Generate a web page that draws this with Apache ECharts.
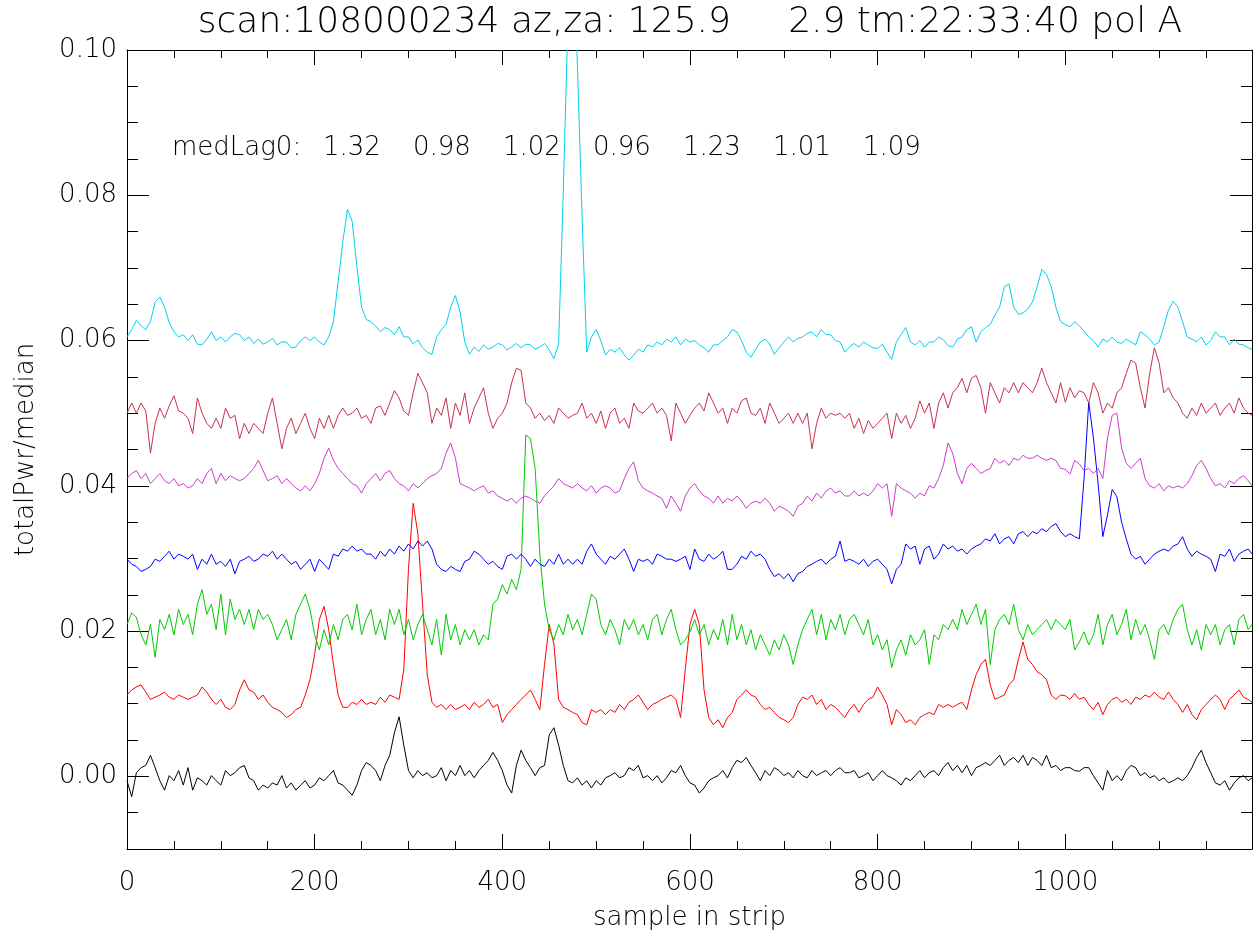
<!DOCTYPE html>
<html><head><meta charset="utf-8">
<script src="https://cdn.jsdelivr.net/npm/echarts@6/dist/echarts.min.js"></script>
<style>html,body{margin:0;padding:0;background:#fff}#c{width:1258px;height:936px}</style>
</head><body><div id="c"></div>
<script>
const titleText = 'scan:108000234 az,za: 125.9     2.9 tm:22:33:40 pol A';
const xAxisName = 'sample in strip';
const yAxisName = 'totalPwr/median';
const medLagLabel = 'medLag0:';
const medLag0 = ['1.32', '0.98', '1.02', '0.96', '1.23', '1.01', '1.09'];
const xTickLabels = [0, 200, 400, 600, 800, 1000];
const yTickLabels = [0, 0.02, 0.04, 0.06, 0.08, 0.10];

// sample index of each read-off point (every 5th sample, plus the last one)
const sampleIndex = [];
for (let s = 0; s <= 1195; s += 5) sampleIndex.push(s);
sampleIndex.push(1199);

const black = [
-.0006,-.0028,.0005,.0012,.0015,.0029,.0012,-.0006,-.0019,.0001,
-.0006,.0008,-.0012,.0012,-.0019,-.0002,-.0006,-.0012,.0001,-.0006,
-.0012,.0008,.0001,.0005,.0012,.0015,-.0002,-.0006,-.0019,-.0012,
-.0016,-.0009,-.0012,.0001,-.0016,-.0009,-.0019,-.0012,-.0006,-.0016,
-.0012,-.0002,-.0006,.0001,.0008,-.0009,-.0012,-.0019,-.0026,-.0012,
.0008,.0019,.0015,.0008,-.0006,.0015,.0029,.0060,.0082,.0043,
.0008,-.0002,.0008,.0001,.0005,-.0002,.0001,.0012,-.0006,.0008,
.0001,.0015,.0001,.0008,-.0002,.0008,.0015,.0022,.0033,.0022,
.0008,-.0012,-.0023,.0015,.0036,.0022,.0012,.0001,.0012,.0015,
.0057,.0067,.0043,.0015,-.0006,-.0009,-.0002,-.0012,-.0006,-.0016,
-.0006,-.0012,-.0002,.0001,.0005,-.0002,.0001,.0012,.0008,.0015,
-.0002,.0001,-.0006,.0001,-.0009,-.0002,.0008,.0005,.0015,.0001,
-.0009,-.0012,-.0023,-.0016,-.0006,-.0002,.0001,.0008,-.0002,.0012,
.0022,.0019,.0026,.0015,.0005,-.0006,.0008,.0001,.0012,.0008,
.0001,.0005,-.0002,.0008,.0001,-.0002,.0008,.0001,.0005,.0008,
.0001,.0008,.0012,.0005,.0005,.0008,-.0002,.0001,.0005,-.0006,
.0001,.0008,.0001,-.0002,-.0006,-.0012,-.0002,-.0006,.0001,.0008,
-.0002,.0005,.0008,.0001,.0012,.0019,.0008,.0015,.0005,.0015,
.0001,.0012,.0015,.0019,.0015,.0022,.0029,.0015,.0022,.0026,
.0019,.0029,.0015,.0026,.0022,.0015,.0029,.0012,.0015,.0008,
.0012,.0012,.0008,.0007,.0012,.0012,.0001,-.0009,-.0019,.0008,
-.0006,.0001,-.0006,.0008,.0015,.0012,.0001,.0005,-.0002,.0001,
-.0006,-.0002,-.0009,-.0006,-.0002,-.0006,.0001,.0012,.0026,.0036,
.0019,.0005,-.0009,-.0012,-.0006,-.0019,-.0009,-.0002,.0001,-.0006,
-.0002];

const red = [
.0112,.0119,.0123,.0126,.0116,.0106,.0109,.0112,.0116,.0109,
.0106,.0112,.0109,.0106,.0109,.0112,.0123,.0116,.0106,.0099,
.0106,.0095,.0092,.0099,.0119,.0133,.0119,.0116,.0106,.0112,
.0102,.0095,.0092,.0088,.0081,.0085,.0092,.0095,.0112,.0133,
.0168,.0216,.0234,.0202,.0154,.0112,.0095,.0095,.0102,.0099,
.0106,.0099,.0102,.0099,.0109,.0102,.0112,.0109,.0106,.0147,
.0286,.0376,.0334,.0237,.0140,.0102,.0095,.0099,.0092,.0099,
.0092,.0095,.0099,.0092,.0102,.0095,.0099,.0106,.0095,.0099,
.0074,.0085,.0092,.0099,.0106,.0112,.0119,.0106,.0092,.0154,
.0209,.0182,.0106,.0095,.0092,.0088,.0085,.0074,.0071,.0092,
.0088,.0092,.0085,.0092,.0088,.0099,.0092,.0102,.0106,.0112,
.0102,.0092,.0099,.0102,.0106,.0109,.0112,.0106,.0081,.0147,
.0209,.0230,.0209,.0119,.0081,.0071,.0078,.0067,.0081,.0088,
.0106,.0112,.0119,.0112,.0109,.0099,.0092,.0095,.0088,.0081,
.0078,.0074,.0081,.0099,.0109,.0106,.0112,.0099,.0106,.0092,
.0099,.0095,.0088,.0081,.0092,.0099,.0088,.0099,.0106,.0109,
.0123,.0112,.0099,.0071,.0092,.0085,.0074,.0078,.0071,.0081,
.0085,.0088,.0085,.0099,.0095,.0099,.0095,.0099,.0102,.0092,
.0119,.0140,.0154,.0161,.0126,.0106,.0109,.0112,.0126,.0133,
.0161,.0185,.0161,.0154,.0144,.0140,.0133,.0112,.0106,.0112,
.0111,.0106,.0114,.0106,.0109,.0099,.0092,.0102,.0085,.0099,
.0106,.0109,.0102,.0106,.0099,.0109,.0106,.0112,.0109,.0116,
.0109,.0106,.0116,.0106,.0099,.0088,.0099,.0085,.0078,.0092,
.0099,.0106,.0112,.0106,.0092,.0106,.0112,.0119,.0109,.0106,
.0102];

const green = [
.0209,.0225,.0219,.0195,.0181,.0209,.0164,.0216,.0202,.0223,
.0195,.0230,.0209,.0223,.0195,.0237,.0257,.0223,.0237,.0202,
.0251,.0195,.0244,.0216,.0230,.0209,.0230,.0202,.0230,.0216,
.0223,.0209,.0188,.0202,.0216,.0188,.0223,.0237,.0251,.0230,
.0195,.0174,.0202,.0181,.0209,.0188,.0216,.0223,.0202,.0237,
.0195,.0216,.0230,.0195,.0216,.0188,.0230,.0209,.0230,.0195,
.0216,.0188,.0209,.0223,.0202,.0181,.0216,.0167,.0223,.0188,
.0209,.0181,.0202,.0188,.0202,.0181,.0195,.0188,.0237,.0244,
.0264,.0251,.0271,.0257,.0285,.0470,.0465,.0424,.0306,.0237,
.0202,.0188,.0209,.0195,.0223,.0202,.0216,.0195,.0223,.0251,
.0244,.0209,.0195,.0216,.0202,.0181,.0216,.0202,.0216,.0195,
.0209,.0188,.0216,.0223,.0195,.0216,.0230,.0202,.0181,.0188,
.0199,.0216,.0195,.0209,.0181,.0202,.0188,.0216,.0181,.0223,
.0188,.0209,.0181,.0202,.0174,.0195,.0181,.0167,.0188,.0174,
.0195,.0181,.0154,.0181,.0202,.0216,.0230,.0195,.0223,.0188,
.0216,.0202,.0223,.0195,.0216,.0223,.0209,.0195,.0216,.0181,
.0195,.0174,.0188,.0150,.0174,.0188,.0167,.0195,.0181,.0188,
.0202,.0154,.0195,.0188,.0209,.0202,.0216,.0202,.0230,.0209,
.0223,.0237,.0209,.0230,.0154,.0202,.0216,.0223,.0209,.0237,
.0202,.0188,.0209,.0195,.0202,.0209,.0216,.0202,.0216,.0209,
.0202,.0216,.0174,.0185,.0199,.0181,.0195,.0223,.0181,.0209,
.0223,.0195,.0209,.0230,.0188,.0216,.0195,.0209,.0188,.0161,
.0202,.0209,.0195,.0216,.0230,.0237,.0202,.0181,.0202,.0174,
.0209,.0195,.0209,.0181,.0202,.0209,.0181,.0216,.0223,.0202,
.0209];

const blue = [
.0299,.0292,.0289,.0282,.0285,.0289,.0299,.0296,.0303,.0310,
.0299,.0306,.0303,.0299,.0306,.0285,.0299,.0292,.0306,.0292,
.0296,.0289,.0299,.0279,.0296,.0299,.0303,.0296,.0299,.0306,
.0303,.0310,.0299,.0306,.0299,.0292,.0296,.0285,.0292,.0299,
.0282,.0299,.0292,.0285,.0306,.0303,.0313,.0310,.0317,.0310,
.0313,.0306,.0306,.0299,.0310,.0303,.0313,.0306,.0317,.0310,
.0320,.0313,.0324,.0317,.0324,.0313,.0292,.0285,.0282,.0289,
.0285,.0282,.0296,.0299,.0310,.0306,.0299,.0292,.0296,.0289,
.0285,.0303,.0306,.0299,.0306,.0299,.0289,.0299,.0292,.0289,
.0299,.0292,.0306,.0292,.0299,.0292,.0299,.0292,.0310,.0320,
.0306,.0299,.0292,.0303,.0299,.0306,.0313,.0299,.0282,.0299,
.0296,.0299,.0292,.0306,.0303,.0299,.0299,.0296,.0299,.0303,
.0285,.0313,.0299,.0296,.0306,.0299,.0303,.0310,.0285,.0285,
.0292,.0303,.0299,.0310,.0303,.0306,.0299,.0285,.0275,.0279,
.0272,.0279,.0268,.0279,.0282,.0289,.0292,.0296,.0299,.0292,
.0299,.0303,.0324,.0296,.0299,.0296,.0292,.0299,.0289,.0296,
.0299,.0292,.0285,.0265,.0285,.0292,.0320,.0313,.0317,.0292,
.0313,.0317,.0299,.0306,.0320,.0313,.0317,.0310,.0313,.0306,
.0313,.0317,.0320,.0327,.0324,.0334,.0320,.0327,.0330,.0320,
.0334,.0337,.0330,.0337,.0334,.0341,.0337,.0344,.0348,.0337,
.0330,.0334,.0330,.0327,.0410,.0515,.0466,.0403,.0330,.0360,
.0395,.0385,.0350,.0327,.0306,.0299,.0303,.0292,.0299,.0306,
.0310,.0313,.0310,.0317,.0320,.0330,.0313,.0303,.0310,.0306,
.0303,.0299,.0282,.0306,.0303,.0313,.0296,.0306,.0310,.0313,
.0306];

const magenta = [
.0410,.0417,.0421,.0410,.0417,.0403,.0410,.0417,.0407,.0403,
.0410,.0400,.0403,.0397,.0400,.0410,.0403,.0417,.0424,.0403,
.0417,.0407,.0414,.0410,.0407,.0410,.0417,.0424,.0435,.0421,
.0407,.0410,.0414,.0403,.0410,.0403,.0397,.0393,.0400,.0393,
.0403,.0417,.0438,.0452,.0435,.0424,.0417,.0410,.0403,.0400,
.0390,.0403,.0410,.0417,.0407,.0417,.0421,.0410,.0403,.0400,
.0393,.0403,.0397,.0403,.0410,.0414,.0417,.0424,.0445,.0459,
.0438,.0403,.0400,.0397,.0393,.0397,.0400,.0390,.0393,.0386,
.0383,.0379,.0383,.0376,.0383,.0386,.0383,.0379,.0376,.0386,
.0393,.0400,.0410,.0403,.0400,.0397,.0403,.0397,.0393,.0400,
.0390,.0397,.0400,.0397,.0390,.0393,.0410,.0424,.0433,.0407,
.0397,.0393,.0390,.0386,.0383,.0369,.0386,.0376,.0365,.0386,
.0397,.0403,.0393,.0386,.0383,.0376,.0386,.0376,.0383,.0379,
.0386,.0379,.0369,.0376,.0379,.0376,.0383,.0376,.0365,.0372,
.0369,.0365,.0358,.0372,.0376,.0386,.0379,.0390,.0383,.0393,
.0397,.0390,.0393,.0386,.0386,.0393,.0386,.0390,.0386,.0393,
.0403,.0397,.0403,.0358,.0403,.0397,.0393,.0390,.0383,.0390,
.0386,.0400,.0397,.0410,.0428,.0459,.0445,.0417,.0403,.0424,
.0431,.0424,.0417,.0421,.0424,.0438,.0431,.0435,.0428,.0438,
.0435,.0442,.0438,.0438,.0442,.0438,.0435,.0438,.0435,.0424,
.0423,.0416,.0435,.0430,.0421,.0424,.0417,.0424,.0410,.0466,
.0497,.0500,.0452,.0431,.0424,.0431,.0438,.0410,.0400,.0397,
.0403,.0393,.0400,.0397,.0400,.0397,.0403,.0414,.0428,.0435,
.0424,.0410,.0400,.0403,.0397,.0407,.0403,.0410,.0414,.0407,
.0400];

const crimson = [
.0500,.0514,.0500,.0514,.0503,.0445,.0486,.0507,.0493,.0510,
.0524,.0503,.0500,.0493,.0472,.0521,.0500,.0486,.0479,.0493,
.0479,.0507,.0493,.0497,.0465,.0486,.0472,.0486,.0479,.0472,
.0500,.0521,.0486,.0451,.0479,.0493,.0472,.0486,.0500,.0479,
.0465,.0493,.0479,.0497,.0479,.0497,.0507,.0497,.0500,.0507,
.0493,.0497,.0486,.0507,.0510,.0497,.0514,.0531,.0521,.0503,
.0497,.0528,.0555,.0542,.0528,.0486,.0507,.0497,.0521,.0479,
.0514,.0497,.0528,.0486,.0507,.0521,.0535,.0500,.0479,.0493,
.0500,.0514,.0542,.0562,.0559,.0514,.0507,.0493,.0500,.0490,
.0497,.0486,.0507,.0500,.0493,.0497,.0500,.0514,.0493,.0500,
.0486,.0503,.0479,.0500,.0507,.0486,.0493,.0479,.0514,.0503,
.0500,.0507,.0514,.0500,.0507,.0497,.0462,.0514,.0500,.0486,
.0497,.0507,.0514,.0503,.0528,.0514,.0500,.0507,.0486,.0507,
.0500,.0517,.0521,.0500,.0497,.0507,.0486,.0514,.0500,.0486,
.0493,.0500,.0486,.0500,.0486,.0500,.0451,.0486,.0507,.0493,
.0500,.0497,.0500,.0493,.0500,.0479,.0493,.0472,.0490,.0479,
.0486,.0493,.0500,.0465,.0500,.0486,.0497,.0479,.0493,.0517,
.0500,.0514,.0479,.0514,.0528,.0507,.0528,.0535,.0548,.0528,
.0548,.0552,.0535,.0500,.0542,.0528,.0514,.0535,.0528,.0542,
.0528,.0542,.0535,.0528,.0542,.0562,.0542,.0528,.0514,.0542,
.0515,.0535,.0521,.0531,.0528,.0514,.0542,.0528,.0500,.0514,
.0507,.0528,.0535,.0555,.0573,.0569,.0535,.0507,.0555,.0590,
.0569,.0528,.0535,.0521,.0514,.0500,.0493,.0507,.0497,.0514,
.0500,.0507,.0514,.0497,.0507,.0514,.0500,.0521,.0507,.0500,
.0497];

const cyan = [
.0605,.0615,.0628,.0620,.0615,.0626,.0653,.0660,.0646,.0625,
.0612,.0605,.0608,.0600,.0608,.0595,.0594,.0602,.0612,.0600,
.0605,.0598,.0605,.0610,.0608,.0600,.0605,.0596,.0602,.0595,
.0598,.0603,.0594,.0598,.0598,.0590,.0591,.0600,.0605,.0600,
.0605,.0598,.0594,.0605,.0626,.0681,.0736,.0781,.0764,.0702,
.0646,.0629,.0626,.0620,.0612,.0618,.0615,.0608,.0619,.0605,
.0605,.0595,.0601,.0590,.0584,.0581,.0605,.0615,.0622,.0646,
.0662,.0639,.0598,.0581,.0591,.0585,.0594,.0588,.0591,.0596,
.0594,.0587,.0591,.0596,.0590,.0595,.0594,.0588,.0591,.0596,
.0587,.0575,.0595,.0806,.1045,.1200,.0980,.0771,.0584,.0605,
.0615,.0600,.0580,.0588,.0584,.0590,.0580,.0573,.0580,.0588,
.0584,.0594,.0591,.0598,.0594,.0602,.0598,.0605,.0594,.0602,
.0598,.0600,.0594,.0590,.0584,.0594,.0594,.0600,.0605,.0615,
.0612,.0600,.0584,.0577,.0588,.0598,.0602,.0595,.0581,.0590,
.0598,.0605,.0598,.0603,.0605,.0610,.0612,.0605,.0615,.0608,
.0608,.0600,.0598,.0584,.0591,.0596,.0591,.0598,.0594,.0590,
.0589,.0595,.0584,.0574,.0598,.0608,.0618,.0598,.0594,.0600,
.0591,.0598,.0598,.0605,.0601,.0593,.0591,.0602,.0605,.0615,
.0619,.0598,.0612,.0618,.0622,.0635,.0646,.0674,.0678,.0646,
.0636,.0638,.0643,.0653,.0674,.0698,.0691,.0674,.0646,.0626,
.0622,.0619,.0626,.0620,.0613,.0605,.0600,.0591,.0602,.0598,
.0605,.0598,.0596,.0602,.0598,.0594,.0612,.0608,.0602,.0594,
.0598,.0619,.0642,.0654,.0646,.0626,.0605,.0602,.0598,.0605,
.0594,.0600,.0612,.0605,.0605,.0594,.0602,.0595,.0594,.0590,
.0588];

const seriesList = [
  { name: 'ch0', values: black,   color: '#000000' },
  { name: 'ch1', values: red,     color: '#ff0000' },
  { name: 'ch2', values: green,   color: '#00cc00' },
  { name: 'ch3', values: blue,    color: '#0000ff' },
  { name: 'ch4', values: magenta, color: '#cc3ccc' },
  { name: 'ch5', values: crimson, color: '#c83250' },
  { name: 'ch6', values: cyan,    color: '#00d0f0' }
];

const FONT = 'DejaVu Sans';
const TXT = { color: '#000', fontFamily: FONT, fontWeight: 200 };
const axisLineStyle = { show: true, onZero: false, lineStyle: { color: '#000', width: 1 } };
const noLine = { show: false, onZero: false };

const chart = echarts.init(document.getElementById('c'), null, { renderer: 'canvas' });

const xCommon = { type: 'value', min: 0, max: 1199, splitLine: { show: false }, gridIndex: 0 };
const yCommon = { type: 'value', min: -0.01, max: 0.10, splitLine: { show: false }, gridIndex: 0 };

const xAxes = [
  Object.assign({}, xCommon, {
    position: 'bottom', interval: 50, axisLine: axisLineStyle,
    axisTick: { show: true, inside: true, length: 8, lineStyle: { color: '#000' } },
    axisLabel: Object.assign({ show: true, fontSize: 26, margin: 21,
      formatter: v => xTickLabels.includes(v) ? String(v) : '' }, TXT),
    name: xAxisName, nameLocation: 'middle', nameGap: 56,
    nameTextStyle: Object.assign({ fontSize: 26 }, TXT)
  }),
  Object.assign({}, xCommon, {
    position: 'bottom', interval: 200, axisLine: noLine,
    axisTick: { show: true, inside: true, length: 15, lineStyle: { color: '#000' } },
    axisLabel: { show: false }
  }),
  Object.assign({}, xCommon, {
    position: 'top', interval: 50, axisLine: axisLineStyle,
    axisTick: { show: true, inside: true, length: 8, lineStyle: { color: '#000' } },
    axisLabel: { show: false }
  }),
  Object.assign({}, xCommon, {
    position: 'top', interval: 200, axisLine: noLine,
    axisTick: { show: true, inside: true, length: 15, lineStyle: { color: '#000' } },
    axisLabel: { show: false }
  })
];

const yAxes = [
  Object.assign({}, yCommon, {
    position: 'left', interval: 0.005, axisLine: axisLineStyle,
    axisTick: { show: true, inside: true, length: 11, lineStyle: { color: '#000' } },
    axisLabel: Object.assign({ show: true, fontSize: 26, margin: 10,
      customValues: yTickLabels, formatter: v => v.toFixed(2) }, TXT),
    name: yAxisName, nameLocation: 'middle', nameGap: 88, nameRotate: 90,
    nameTextStyle: Object.assign({ fontSize: 26 }, TXT)
  }),
  Object.assign({}, yCommon, {
    position: 'left', interval: 0.005, axisLine: noLine,
    axisTick: { show: true, inside: true, length: 22, customValues: yTickLabels, lineStyle: { color: '#000' } },
    axisLabel: { show: false }
  }),
  Object.assign({}, yCommon, {
    position: 'right', interval: 0.005, axisLine: axisLineStyle,
    axisTick: { show: true, inside: true, length: 11, lineStyle: { color: '#000' } },
    axisLabel: { show: false }
  }),
  Object.assign({}, yCommon, {
    position: 'right', interval: 0.005, axisLine: noLine,
    axisTick: { show: true, inside: true, length: 22, customValues: yTickLabels, lineStyle: { color: '#000' } },
    axisLabel: { show: false }
  })
];

const graphics = [
  { type: 'text', x: 690, y: 23, silent: true,
    style: { text: titleText, align: 'center', verticalAlign: 'middle',
      font: '200 36px "' + FONT + '"', fill: '#000' } },
  { type: 'text', x: 172, y: 148, silent: true,
    style: { text: medLagLabel, align: 'left', verticalAlign: 'middle',
      font: '200 26px "' + FONT + '"', fill: '#000' } }
];
medLag0.forEach((t, i) => {
  graphics.push({ type: 'text', x: 323 + i * 90, y: 148, silent: true,
    style: { text: t, align: 'left', verticalAlign: 'middle',
      font: '200 26px "' + FONT + '"', fill: '#000' } });
});

chart.setOption({
  animation: false,
  backgroundColor: '#ffffff',
  grid: { left: 127, right: 6, top: 50, bottom: 87, containLabel: false },
  xAxis: xAxes,
  yAxis: yAxes,
  graphic: graphics,
  series: seriesList.map(s => ({
    name: s.name, type: 'line', xAxisIndex: 0, yAxisIndex: 0,
    showSymbol: false, symbol: 'none', silent: true, clip: true,
    lineStyle: { color: s.color, width: 1 }, itemStyle: { color: s.color },
    emphasis: { disabled: true },
    data: s.values.map((v, i) => [sampleIndex[i], v])
  }))
});
</script>
</body></html>
